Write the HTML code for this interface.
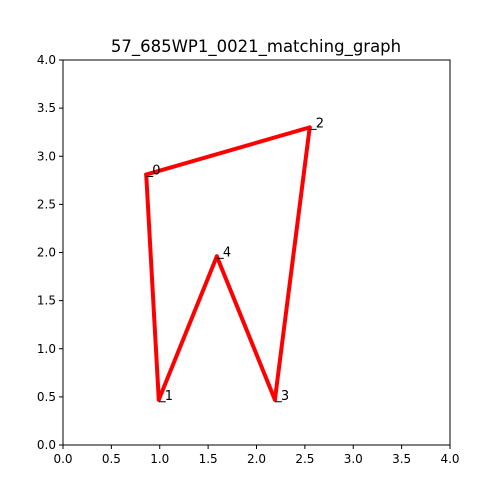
<!DOCTYPE html>
<html><head><meta charset="utf-8"><style>body{margin:0;background:#fff}svg{display:block;font-family:"DejaVu Sans","Liberation Sans",sans-serif}</style></head>
<body>
<svg id="chart" width="500" height="500">
<rect width="500" height="500" fill="#fff"/>
<text x="256" y="52" font-size="16.5" text-anchor="middle">57_685WP1_0021_matching_graph</text>
<g id="ticks"></g>
<g id="edges"></g>
<g id="nodes"></g>
<rect x="63" y="60" width="387" height="385" fill="none" stroke="#000" stroke-width="1"/>
</svg>
<script>
const nodeIds=["0","1","2","3","4"];
const nodeX=[0.86,0.99,2.55,2.19,1.59];
const nodeY=[2.81,0.47,3.30,0.47,1.96];
const edgeFrom=[0,2,3,4,1];
const edgeTo=[2,3,4,1,0];
const tickVals=[0,0.5,1,1.5,2,2.5,3,3.5,4];
const tickLabels=["0.0","0.5","1.0","1.5","2.0","2.5","3.0","3.5","4.0"];
const X0=63,X1=450,Y0=445,Y1=60;
const sx=v=>X0+(X1-X0)*v/4, sy=v=>Y0-(Y0-Y1)*v/4;
const NS="http://www.w3.org/2000/svg";
function mk(t,a,p){const e=document.createElementNS(NS,t);for(const k in a)e.setAttribute(k,a[k]);p.appendChild(e);return e;}
const tg=document.getElementById('ticks');
tickVals.forEach((v,i)=>{
 const a=mk('line',{x1:sx(v),x2:sx(v),y1:Y0,y2:Y0+4,stroke:'#000'},tg);
 
 
 const t=mk('text',{x:sx(v),y:Y0+18,'font-size':12,'text-anchor':'middle'},tg);t.textContent=tickLabels[i];
 
 
 const b=mk('line',{x1:X0-4,x2:X0,y1:sy(v),y2:sy(v),stroke:'#000'},tg);
 
 
 const u=mk('text',{x:X0-7,y:sy(v)+4,'font-size':12,'text-anchor':'end'},tg);u.textContent=tickLabels[i];
 
 
});
const eg=document.getElementById('edges');
edgeFrom.forEach((f,i)=>{
 const t=edgeTo[i];
 const l=mk('line',{x1:sx(nodeX[f]),y1:sy(nodeY[f]),x2:sx(nodeX[t]),y2:sy(nodeY[t]),stroke:'#f00','stroke-width':4,'stroke-linecap':'round'},eg);
 
 
});
const ng=document.getElementById('nodes');
nodeIds.forEach((id,i)=>{
 const x=sx(nodeX[i]),y=sy(nodeY[i]);
 const m=mk('line',{x1:x,x2:x+7,y1:y+2,y2:y+2,stroke:'#000','stroke-width':1},ng);
 
 
 const t=mk('text',{x:x+6,y:y,'font-size':13},ng);t.textContent=id;
 
 
});
</script>
</body></html>
